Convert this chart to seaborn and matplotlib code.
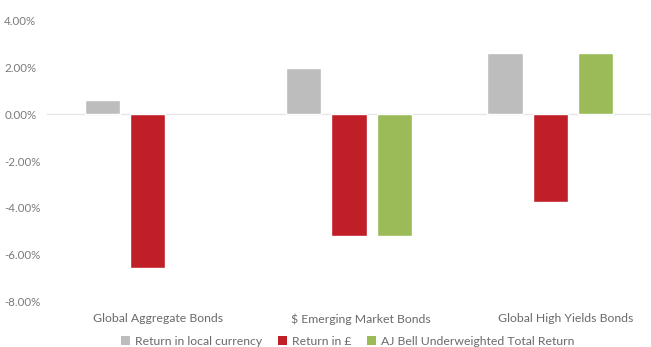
import matplotlib
matplotlib.use("Agg")
import matplotlib.pyplot as plt
import seaborn as sns
import pandas as pd
import numpy as np
from matplotlib.ticker import FuncFormatter
from matplotlib.patches import Patch

categories = ["Global Aggregate Bonds", "$ Emerging Market Bonds", "Global High Yields Bonds"]
series = ["Return in local currency", "Return in £", "AJ Bell Underweighted Total Return"]
local_currency = [0.6, 1.95, 2.62]
return_gbp = [-6.55, -5.2, -3.75]
ajbell = [np.nan, -5.2, 2.62]
colors = ["#bdbdbd", "#c01f27", "#9bbb59"]
yticks = [4, 2, 0, -2, -4, -6, -8]

rows = []
for s, vals in zip(series, [local_currency, return_gbp, ajbell]):
    for c, v in zip(categories, vals):
        rows.append({"category": c, "series": s, "value": v})
df = pd.DataFrame(rows)

sns.set_theme(style="white")
plt.rcParams["font.family"] = ["Lato", "DejaVu Sans"]

fig = plt.figure(figsize=(6.51, 3.47), dpi=100)
ax = fig.add_axes([0.072, 0.130, 0.928, 0.812])

sns.barplot(data=df, x="category", y="value", hue="series", order=categories,
            hue_order=series, palette=colors, width=0.675, gap=0.22,
            errorbar=None, ax=ax, legend=False, saturation=1)

ax.set_ylim(-8, 4)
ax.set_xlim(-0.5, 2.5)
ax.set_yticks(yticks)
ax.yaxis.set_major_formatter(FuncFormatter(lambda v, p: f"{v:.2f}%"))
# category labels sit slightly right of the bar-group centres in the original
ax.set_xticks([0.052, 1.06, 2.077])
ax.set_xticklabels(categories)
ax.axhline(0, color="#e6e6e6", lw=1, zorder=0)
for sp in ax.spines.values():
    sp.set_visible(False)
ax.set_xlabel("")
ax.set_ylabel("")
ax.tick_params(axis="y", colors="#7a7a7a", labelsize=8.3, length=0, pad=2)
ax.tick_params(axis="x", colors="#6a6a6a", labelsize=8.8, length=0, pad=8)
for lab in ax.get_yticklabels():
    lab.set_horizontalalignment("left")
    lab.set_x(-0.066)

handles = [Patch(facecolor=c, edgecolor="none") for c in colors]
fig.legend(handles, series, loc="center", bbox_to_anchor=(0.534, 0.016),
           ncol=3, frameon=False, fontsize=8.8, handlelength=0.75, handleheight=0.75,
           handletextpad=0.4, columnspacing=1.3, labelcolor="#6a6a6a")

fig.savefig("out.png", dpi=100)
